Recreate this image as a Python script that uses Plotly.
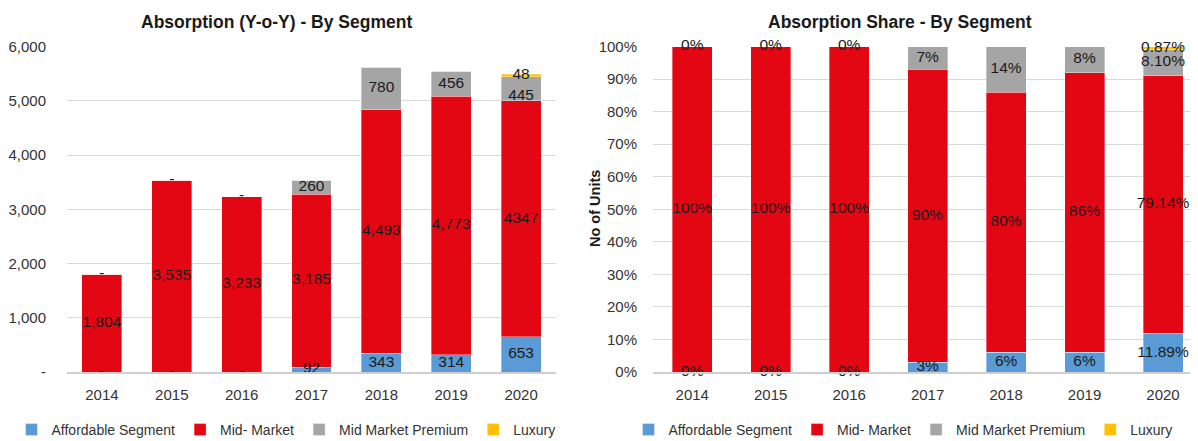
import plotly.graph_objects as go

# ---------------- data ----------------
years = ["2014", "2015", "2016", "2017", "2018", "2019", "2020"]

# Absorption (units) by segment
affordable = [0, 0, 0, 92, 343, 314, 653]
mid_market = [1804, 3535, 3233, 3185, 4493, 4773, 4347]
mid_premium = [0, 0, 0, 260, 780, 456, 445]
luxury = [0, 0, 0, 0, 0, 0, 48]

# labels as printed on the left chart
affordable_text = ["-", "-", "-", "92", "343", "314", "653"]
mid_market_text = ["1,804", "3,535", "3,233", "3,185", "4,493", "4,773", "4347"]
mid_premium_text = ["-", "-", "-", "260", "780", "456", "445"]
luxury_text = ["", "", "", "", "", "", "48"]

# Absorption share (%) by segment
share_affordable = [0, 0, 0, 3, 6, 6, 11.89]
share_mid_market = [100, 100, 100, 90, 80, 86, 79.14]
share_mid_premium = [0, 0, 0, 7, 14, 8, 8.10]
share_luxury = [0, 0, 0, 0, 0, 0, 0.87]

share_affordable_text = ["0%", "0%", "0%", "3%", "6%", "6%", "11.89%"]
share_mid_market_text = ["100%", "100%", "100%", "90%", "80%", "86%", "79.14%"]
share_mid_premium_text = ["0%", "0%", "0%", "7%", "14%", "8%", "8.10%"]
share_luxury_text = ["", "", "", "", "", "", "0.87%"]

left_yticks = [0, 1000, 2000, 3000, 4000, 5000, 6000]
left_yticklabels = ["-", "1,000", "2,000", "3,000", "4,000", "5,000", "6,000"]
right_yticks = [0, 10, 20, 30, 40, 50, 60, 70, 80, 90, 100]
right_yticklabels = ["0%", "10%", "20%", "30%", "40%", "50%", "60%", "70%", "80%", "90%", "100%"]

segment_names = ["Affordable Segment", "Mid- Market", "Mid Market Premium", "Luxury"]
segment_colors = ["#5B9BD5", "#E30613", "#A5A5A5", "#FFC000"]

# ---------------- style ----------------
FONT = "Liberation Sans, Arial, sans-serif"
OFF = 8                      # page body margin in the browser
W, H = 1198 - OFF, 441 - OFF
TXT = "#1a1a1a"
TICK = "#333333"
GRID = "#D9D9D9"
LABEL_SIZE = 15.5


def px(x):
    return (x - OFF) / W


def py(y):
    return (H - (y - OFF)) / H


# label placement (style only): the 2020 premium label sits just under its segment centre
left_label_pos = [
    ["middle center"] * 7,
    ["middle center"] * 7,
    ["middle center"] * 6 + ["bottom center"],
    ["middle center"] * 7,
]
right_label_pos = [["middle center"] * 7] * 4

fig = go.Figure()


def add_stack(series, texts, positions, xaxis, yaxis, legend, width):
    base = [0] * len(years)
    for name, color, vals, txt, pos in zip(segment_names, segment_colors, series, texts, positions):
        fig.add_trace(go.Bar(
            x=years, y=vals, name=name,
            marker=dict(color=color, line=dict(width=0.6, color="rgba(255,255,255,0.6)")),
            width=width, xaxis=xaxis, yaxis=yaxis, legend=legend, hoverinfo="x+y+name",
        ))
        mids = [b + v / 2 for b, v in zip(base, vals)]
        fig.add_trace(go.Scatter(
            x=years, y=mids, text=txt, mode="text", textposition=pos,
            textfont=dict(family=FONT, size=LABEL_SIZE, color=TXT),
            showlegend=False, hoverinfo="skip", xaxis=xaxis, yaxis=yaxis, cliponaxis=False,
        ))
        base = [b + v for b, v in zip(base, vals)]


add_stack([affordable, mid_market, mid_premium, luxury],
          [affordable_text, mid_market_text, mid_premium_text, luxury_text],
          left_label_pos, "x", "y", "legend", 0.571)
add_stack([share_affordable, share_mid_market, share_mid_premium, share_luxury],
          [share_affordable_text, share_mid_market_text, share_mid_premium_text, share_luxury_text],
          right_label_pos, "x2", "y2", "legend2", 0.51)

ydom = [py(372), py(46.5)]
axis_font = dict(family=FONT, size=15, color=TICK)
legend_common = dict(orientation="h", y=py(430), yanchor="middle",
                     font=dict(family=FONT, size=14, color=TICK), bgcolor="rgba(0,0,0,0)",
                     itemwidth=30, traceorder="normal", tracegroupgap=0)

fig.update_layout(
    width=W, height=H,
    margin=dict(l=0, r=0, t=0, b=0, autoexpand=False),
    paper_bgcolor="white", plot_bgcolor="white",
    barmode="stack",
    font=dict(family=FONT, size=15, color=TXT),
    xaxis=dict(domain=[px(67), px(556)], range=[-0.5, 6.5], type="category",
               tickfont=axis_font, showgrid=False, showline=True, linecolor="#CFCFCF", linewidth=1.5,
               ticks="", ticklabelstandoff=8, fixedrange=True),
    yaxis=dict(domain=ydom, range=[0, 6000], tickvals=left_yticks, ticktext=left_yticklabels,
               tickfont=axis_font, showgrid=True, gridcolor=GRID, gridwidth=1, zeroline=False,
               showline=False, ticks="", ticklabelstandoff=20, fixedrange=True),
    xaxis2=dict(domain=[px(653), 1.0], range=[-0.5, 6.446], type="category", anchor="y2",
                tickfont=axis_font, showgrid=False, showline=True, linecolor="#CFCFCF", linewidth=1.5,
                ticks="", ticklabelstandoff=8, fixedrange=True),
    yaxis2=dict(domain=ydom, range=[0, 100], tickvals=right_yticks, ticktext=right_yticklabels,
                anchor="x2", tickfont=axis_font, showgrid=True, gridcolor=GRID, gridwidth=1,
                zeroline=False, showline=False, ticks="", ticklabelstandoff=15, fixedrange=True),
    legend=dict(x=px(286), xanchor="center", **legend_common),
    legend2=dict(x=px(903), xanchor="center", **legend_common),
    showlegend=True,
    annotations=[
        dict(text="<b>Absorption (Y-o-Y) - By Segment</b>", x=px(276), y=py(22), xref="paper",
             yref="paper", showarrow=False, xanchor="center", yanchor="middle",
             font=dict(family=FONT, size=17.5, color=TXT)),
        dict(text="<b>Absorption Share - By Segment</b>", x=px(900), y=py(22), xref="paper",
             yref="paper", showarrow=False, xanchor="center", yanchor="middle",
             font=dict(family=FONT, size=17.5, color=TXT)),
        dict(text="<b>No of Units</b>", x=px(595), y=py(209), xref="paper", yref="paper",
             showarrow=False, xanchor="center", yanchor="middle", textangle=-90,
             font=dict(family=FONT, size=14.5, color=TXT)),
    ],
)

fig.write_html("out.html")
